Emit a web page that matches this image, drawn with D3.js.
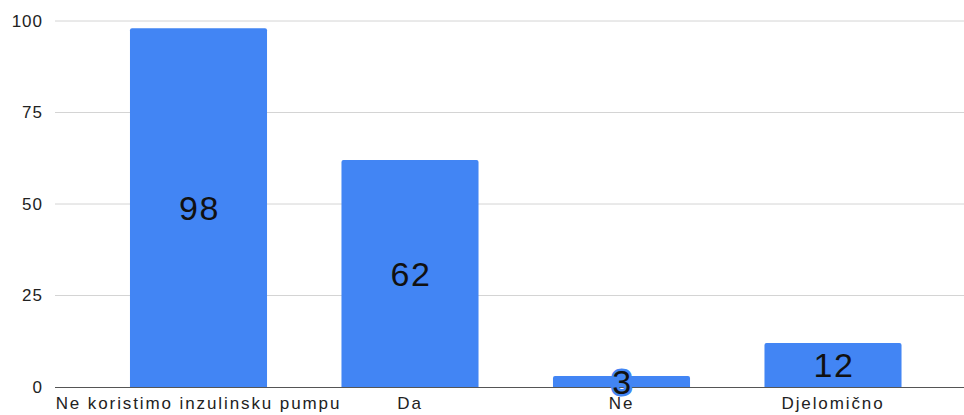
<!DOCTYPE html>
<html>
<head>
<meta charset="utf-8">
<script src="https://cdn.jsdelivr.net/npm/d3@7"></script>
<style>
  body { margin: 0; background: #fff; }
  svg text { font-family: "Liberation Sans", Arial, sans-serif; }
</style>
</head>
<body>
<div id="chart"></div>
<script>
// data
const categories = ["Ne koristimo inzulinsku pumpu", "Da", "Ne", "Djelomično"];
const values = [98, 62, 3, 12];
const yTicks = [0, 25, 50, 75, 100];

const width = 964, height = 415;
const plot = { left: 55, right: 964, top: 21, bottom: 387 };

const svg = d3.select("#chart").append("svg")
  .attr("width", width)
  .attr("height", height);

// scales
const x = d3.scaleBand()
  .domain(categories)
  .range([92.75, 938.75])
  .paddingInner(0.352)
  .paddingOuter(0.176);

const y = d3.scaleLinear()
  .domain([0, 100])
  .range([plot.bottom, plot.top]);

// gridlines
svg.append("g")
  .selectAll("line")
  .data(yTicks.filter(d => d > 0))
  .join("line")
  .attr("x1", plot.left)
  .attr("x2", plot.right)
  .attr("y1", d => y(d))
  .attr("y2", d => y(d))
  .attr("stroke", "#d4d4d4")
  .attr("stroke-width", 1);

// y axis labels
const yAxis = d3.axisLeft(y).tickValues(yTicks).tickSize(0).tickPadding(12);
svg.append("g")
  .attr("transform", `translate(${plot.left}, 0)`)
  .call(yAxis)
  .call(g => g.select(".domain").remove())
  .call(g => g.selectAll("text")
    .attr("font-size", 17)
    .attr("letter-spacing", "1px")
    .attr("fill", "#222")
    .attr("font-family", "Liberation Sans, Arial, sans-serif"));

// bars with slightly rounded tops
const r = 2;
svg.append("g")
  .selectAll("path")
  .data(values)
  .join("path")
  .attr("fill", "#4285f4")
  .attr("d", (d, i) => {
    const x0 = x(categories[i]), w = x.bandwidth();
    const y0 = y(d), y1 = y(0);
    return `M${x0},${y1}V${y0 + r}Q${x0},${y0} ${x0 + r},${y0}H${x0 + w - r}Q${x0 + w},${y0} ${x0 + w},${y0 + r}V${y1}Z`;
  });

// x axis baseline
svg.append("line")
  .attr("x1", plot.left)
  .attr("x2", plot.right)
  .attr("y1", y(0) + 0.5)
  .attr("y2", y(0) + 0.5)
  .attr("stroke", "#555")
  .attr("stroke-width", 1);

// x labels
const xAxis = d3.axisBottom(x).tickSize(0).tickPadding(10);
svg.append("g")
  .attr("transform", `translate(0, ${plot.bottom})`)
  .call(xAxis)
  .call(g => g.select(".domain").remove())
  .call(g => g.selectAll("text")
    .attr("font-size", 17)
    .attr("letter-spacing", "1.9px")
    .attr("fill", "#222")
    .attr("font-family", "Liberation Sans, Arial, sans-serif"));

// value labels
svg.append("g")
  .selectAll("text")
  .data(values)
  .join("text")
  .attr("x", (d, i) => x(categories[i]) + x.bandwidth() / 2 + 1)
  .attr("y", d => (y(d) + y(0)) / 2)
  .attr("dy", "0.36em")
  .attr("text-anchor", "middle")
  .attr("font-size", 34)
  .attr("letter-spacing", "1.5px")
  .attr("fill", "#111")
  .attr("stroke", "#4285f4")
  .attr("stroke-width", 5)
  .attr("stroke-linejoin", "round")
  .attr("paint-order", "stroke")
  .text(d => d);
</script>
</body>
</html>
